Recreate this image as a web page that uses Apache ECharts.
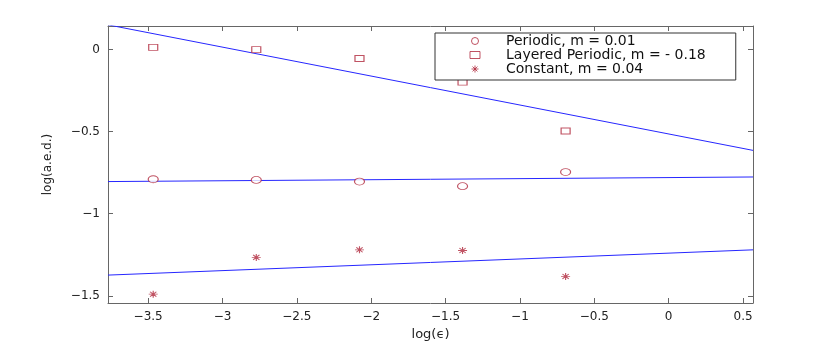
<!DOCTYPE html>
<html>
<head>
<meta charset="utf-8">
<script src="https://cdn.jsdelivr.net/npm/echarts@6/dist/echarts.min.js"></script>
<style>
  html, body { margin: 0; padding: 0; background: #fff; }
  #chart { width: 830px; height: 346px; }
</style>
</head>
<body>
<div id="chart"></div>
<script>
// x = log(epsilon) for eps = 1/32 ... 1/2
const xVals = [-3.466, -2.773, -2.079, -1.386, -0.693];
const periodic = [-0.790, -0.794, -0.804, -0.832, -0.746];
const layered = [0.014, 0.0, -0.054, -0.198, -0.496];
const constant = [-1.490, -1.266, -1.220, -1.224, -1.382];

// fitted lines, read at the left and right ends of the axes
const fitX = [-3.77, 0.567];
const fitPeriodic = [-0.804, -0.776];
const fitLayered = [0.151, -0.614];
const fitConstant = [-1.374, -1.220];

const names = ['Periodic, m = 0.01', 'Layered Periodic, m = - 0.18', 'Constant, m = 0.04'];

const markColor = '#b0283c';
const lineColor = '#2626ff';
const axisColor = '#666';
const font = 'DejaVu Sans';
const asterisk = 'path://M5 0L5 10M0 5L10 5M1.5 1.5L8.5 8.5M8.5 1.5L1.5 8.5';

const pairs = (xs, ys) => xs.map((x, i) => [x, ys[i]]);

const chart = echarts.init(document.getElementById('chart'));

// matlab style minus sign on the tick labels
const tickFmt = v => String(Math.round(v * 10) / 10).replace('-', '\u2212');

const baseAxis = {
  type: 'value',
  splitLine: { show: false },
  axisLine: { show: true, onZero: false, lineStyle: { color: axisColor, width: 1 } },
  axisTick: { show: true, inside: true, length: 5, lineStyle: { color: axisColor } },
};

const option = {
  animation: false,
  backgroundColor: '#fff',
  textStyle: { fontFamily: font },
  grid: { left: 108, right: 77, top: 26, bottom: 39 },
  legend: {
    orient: 'vertical',
    left: 435,
    top: 33,
    padding: [1, 30, 4, 34],
    itemWidth: 10,
    itemHeight: 7,
    itemGap: 0,
    borderColor: '#333',
    borderWidth: 1,
    backgroundColor: '#fff',
    textStyle: { fontFamily: font, fontSize: 14, color: '#111', lineHeight: 14, padding: [0, 0, 0, 21] },
    data: [
      { name: names[0], icon: 'circle', itemStyle: { color: '#fff', borderColor: markColor, borderWidth: 1 } },
      { name: names[1], icon: 'rect', itemStyle: { color: '#fff', borderColor: markColor, borderWidth: 1 } },
      { name: names[2], icon: asterisk, itemStyle: { color: 'none', borderColor: markColor, borderWidth: 1 } }
    ]
  },
  xAxis: [
    Object.assign({}, baseAxis, {
      min: fitX[0], max: fitX[1], splitNumber: 8, position: 'bottom',
      axisLabel: { showMinLabel: false, showMaxLabel: false, color: '#222', fontSize: 12, margin: 8, formatter: tickFmt },
      name: 'log(ϵ)', nameLocation: 'middle', nameGap: 25,
      nameTextStyle: { color: '#222', fontSize: 13, fontFamily: font }
    }),
    Object.assign({}, baseAxis, {
      min: fitX[0], max: fitX[1], splitNumber: 8, position: 'top',
      axisLabel: { show: false }
    })
  ],
  yAxis: [
    Object.assign({}, baseAxis, {
      min: -1.544, max: 0.144, splitNumber: 4, position: 'left',
      axisLabel: { showMinLabel: false, showMaxLabel: false, color: '#222', fontSize: 12, margin: 8, formatter: tickFmt },
      name: 'log(a.e.d.)', nameLocation: 'middle', nameGap: 54,
      nameTextStyle: { color: '#222', fontSize: 12, fontFamily: font }
    }),
    Object.assign({}, baseAxis, {
      min: -1.544, max: 0.144, splitNumber: 4, position: 'right',
      axisLabel: { show: false }
    })
  ],
  series: [
    {
      name: names[0], type: 'scatter', data: pairs(xVals, periodic),
      symbol: 'circle', symbolSize: [10, 7],
      itemStyle: { color: '#fff', borderColor: markColor, borderWidth: 1 }
    },
    {
      name: names[1], type: 'scatter', data: pairs(xVals, layered),
      symbol: 'rect', symbolSize: [9, 6],
      itemStyle: { color: '#fff', borderColor: markColor, borderWidth: 1 }
    },
    {
      name: names[2], type: 'scatter', data: pairs(xVals, constant),
      symbol: asterisk, symbolSize: [9, 7],
      itemStyle: { color: 'none', borderColor: markColor, borderWidth: 1 }
    },
    {
      type: 'line', data: pairs(fitX, fitPeriodic), symbol: 'none', silent: true,
      lineStyle: { color: lineColor, width: 1 }, z: 1
    },
    {
      type: 'line', data: pairs(fitX, fitLayered), symbol: 'none', silent: true,
      lineStyle: { color: lineColor, width: 1 }, z: 1
    },
    {
      type: 'line', data: pairs(fitX, fitConstant), symbol: 'none', silent: true,
      lineStyle: { color: lineColor, width: 1 }, z: 1
    }
  ]
};

chart.setOption(option);
</script>
</body>
</html>
